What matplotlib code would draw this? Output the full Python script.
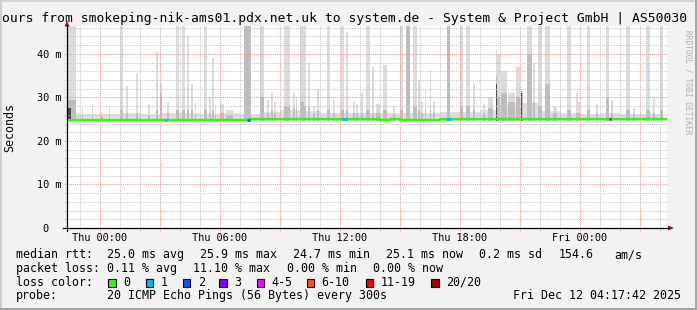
import numpy as np
import matplotlib.pyplot as plt
from matplotlib.patches import Rectangle, Polygon
from matplotlib.lines import Line2D

W, H = 697, 310
MONO = "DejaVu Sans Mono"

# time axis in hours since Thu 00:00 (last 30 hours)
t_first, t_last = -1.65, 28.35
x_ticks = [0, 6, 12, 18, 24]
x_labels = ["Thu 00:00", "Thu 06:00", "Thu 12:00", "Thu 18:00", "Fri 00:00"]
y_ticks = [0, 10, 20, 30, 40]
y_labels = ["0\u00a0\u00a0", "10 m", "20 m", "30 m", "40 m"]

# median rtt (ms), one value per half hour starting at -2.0 h
median_start, median_step = -2.0, 0.5
median_ms = [24.85, 24.85, 24.80, 24.80,
             24.80, 24.75, 24.70, 24.75, 24.80, 24.80, 24.85, 24.80,
             24.80, 24.75, 24.80, 24.75, 24.75, 24.70, 24.75, 24.95,
             25.00, 25.05, 25.00, 25.05, 25.10, 25.00, 24.95, 25.00,
             25.00, 24.95, 25.00, 24.95, 24.90, 24.95, 24.85, 24.80,
             24.85, 24.90, 24.95, 25.00, 25.00, 25.10, 25.10, 25.10,
             25.05, 25.10, 25.15, 25.05, 25.00, 24.95, 25.00, 25.00,
             25.05, 25.00, 25.05, 25.00, 25.05, 25.10, 25.05, 25.10,
             25.10, 25.10]

# light smoke just above the median, hourly from -2 h
base_start = -2
base_top = [26.5, 26.2, 26.2, 26.4, 26.2, 26.5, 26.4, 26.2, 26.5, 26.2,
            26.6, 27.0, 26.8, 26.4, 26.5, 26.4, 26.5, 26.4, 26.5, 26.6,
            26.6, 27.2, 28.2, 28.6, 26.8, 26.4, 26.2, 26.4, 26.2, 26.2,
            26.2]

# smoke spikes: start/end (h), highest ping (ms), denser smoke top (ms)
spike_from = [-1.62, -0.92, -0.40, 0.07, 0.45, 0.98, 1.32, 1.82, 1.98, 2.40,
              2.82, 2.98, 3.35, 3.82, 4.08, 4.35, 4.57, 4.73, 5.18, 5.43,
              5.58, 5.73, 6.00, 6.30, 7.20, 8.00, 8.35, 8.55, 8.68, 9.20,
              9.65, 9.78, 10.00, 10.22, 10.38, 10.65, 10.85, 11.35, 11.65, 12.03,
              12.30, 12.65, 12.80, 13.05, 13.30, 13.60, 13.80, 14.15, 14.65, 15.00,
              15.30, 15.65, 15.90, 16.05, 16.23, 16.48, 16.65, 17.33, 18.00, 18.30,
              18.65, 19.15, 19.38, 19.80, 19.87, 20.07, 20.38, 20.80, 21.03, 21.33,
              21.65, 21.90, 22.25, 22.65, 22.98, 23.35, 23.80, 23.90, 24.35, 24.80,
              25.30, 25.55, 26.30, 26.65, 27.30, 27.65, 28.00]
spike_to = [-1.22, -0.85, -0.33, 0.14, 0.52, 1.17, 1.40, 1.90, 2.06, 2.48,
            2.90, 3.08, 3.43, 3.97, 4.25, 4.43, 4.65, 4.81, 5.33, 5.55,
            5.68, 5.81, 6.20, 6.67, 7.53, 8.20, 8.43, 8.63, 8.78, 9.50,
            9.73, 9.86, 10.20, 10.32, 10.48, 10.73, 10.93, 11.50, 11.73, 12.20,
            12.40, 12.73, 12.88, 13.15, 13.50, 13.68, 14.00, 14.33, 14.73, 15.17,
            15.50, 15.83, 15.98, 16.13, 16.31, 16.56, 16.73, 17.50, 18.17, 18.50,
            18.73, 19.23, 19.67, 19.87, 20.00, 20.33, 20.75, 21.00, 21.17, 21.58,
            21.73, 22.08, 22.50, 22.83, 23.06, 23.53, 23.88, 23.98, 24.50, 24.88,
            25.45, 25.63, 26.50, 26.73, 27.50, 27.73, 28.17]
spike_max = [48, 27.5, 28, 26.5, 28, 48, 32.7, 35.5, 33.8, 28.5,
             40.5, 33.2, 29, 48, 48, 44, 33, 28.8, 48, 30,
             39, 28, 28.5, 27, 48, 48, 29.5, 31, 29, 48,
             31, 30, 48, 48, 38, 28, 32, 48, 29.5, 48,
             45, 29, 28.5, 31, 48, 37, 28.5, 37.5, 28, 48,
             48, 48, 34, 29, 32, 36, 29, 48, 48, 48,
             33, 28.5, 30, 41, 40, 36, 31, 37, 32, 48,
             38, 48, 48, 28, 29, 48, 31, 29, 48, 28.5,
             48, 29.5, 48, 27.5, 48, 30, 48]
spike_mid = [29.5, 26, 26, 25.8, 26, 27, 26.5, 26.5, 26.5, 26,
             27, 31, 26.5, 27, 27, 27, 27, 26, 27, 26.5,
             27, 26, 26.5, 26, 48, 30, 26.5, 27, 26.5, 28,
             27.5, 27.5, 29, 28, 27.5, 26.5, 27, 27, 26.5, 27,
             27, 26.5, 26.5, 26.5, 27, 26.5, 26.5, 27, 26.3, 27,
             48, 28, 27, 26.5, 27, 27, 26.5, 48, 28, 28,
             27, 26.5, 27.5, 35, 30, 31, 29, 30, 31, 40,
             29, 28, 33, 26.5, 26.5, 27, 26.5, 26.5, 27, 26.5,
             30, 26.5, 27, 26.3, 27, 26.5, 27]

# darkest smoke streaks
core_from = [-1.60, 19.80, 21.05]
core_to = [-1.45, 19.86, 21.12]
core_top = [27.5, 33, 31]

# packet loss on the median line: start/end (h), lost pings of 20
loss_from = [3.20, 7.33, 12.10, 17.30, 25.43]
loss_to = [3.37, 7.50, 12.33, 17.55, 25.53]
loss_count = [1, 2, 1, 1, 3]

loss_names = ["0", "1", "2", "3", "4-5", "6-10", "11-19", "20/20"]
loss_colors = ["#26ff00", "#00b8ff", "#0059ff", "#7e00ff", "#ff00ff",
               "#ff5500", "#ff0000", "#a10000"]


def loss_index(n):
    if n <= 3:
        return n
    if n <= 5:
        return 4
    if n <= 10:
        return 5
    if n <= 19:
        return 6
    return 7


def fx(x):
    return x / W


def fy(y):
    return 1 - y / H


fig = plt.figure(figsize=(W / 100, H / 100), dpi=100, facecolor="#f2f2f2")

# 3d-ish border of the rrdtool image
fig.add_artist(Rectangle((0, fy(2)), 1, 2 / H, transform=fig.transFigure, color="#d4d4d4", lw=0))
fig.add_artist(Rectangle((0, 0), 2 / W, 1, transform=fig.transFigure, color="#cfcfcf", lw=0))
fig.add_artist(Rectangle((0, 0), 1, 2.5 / H, transform=fig.transFigure, color="#a0a0a0", lw=0))
fig.add_artist(Rectangle((fx(695), 0), 2 / W, 1, transform=fig.transFigure, color="#a8a8a8", lw=0))

top_px, bot_px, left_px, right_px = 26, 228, 67, 667
ax = fig.add_axes([fx(left_px), fy(bot_px), (right_px - left_px) / W, (bot_px - top_px) / H])
ax.set_facecolor("white")
ax.set_xlim(t_first, t_last)
ax.set_ylim(0, 46.4)
for s in ax.spines.values():
    s.set_visible(False)

# smoke
base_t = np.arange(len(base_top)) + base_start
ax.fill_between(base_t, 24.6, base_top, step="post", color="#e0e0e0", lw=0, zorder=1)
sf = np.array(spike_from)
st = np.array(spike_to)
ax.bar(sf, np.array(spike_max) - 24.6, width=st - sf, bottom=24.6, align="edge",
       color="#dcdcdc", lw=0, zorder=1.1)
ax.bar(sf, np.array(spike_mid) - 24.6, width=st - sf, bottom=24.6, align="edge",
       color="#bdbdbd", lw=0, zorder=1.2)
cf = np.array(core_from)
ax.bar(cf, np.array(core_top) - 24.6, width=np.array(core_to) - cf, bottom=24.6, align="edge",
       color="#4a4a4a", lw=0, zorder=1.3)

# grid (hourly minor, 3-hourly major; 2 ms minor, 10 ms major)
dot = (0, (1, 1))
for h in range(-1, 29):
    major = h % 3 == 0
    ax.axvline(h, ymin=-2.5 / 202, ymax=1, color="#f19a9a" if major else "#c8c8c8",
               lw=0.75, ls=dot, zorder=2, clip_on=False)
for v in range(2, 47, 2):
    major = v % 10 == 0
    ax.axhline(v, xmin=-3 / 600, xmax=1, color="#f19a9a" if major else "#c8c8c8",
               lw=0.75, ls=dot, zorder=2, clip_on=False)

# median line
mt = np.arange(len(median_ms)) * median_step + median_start
ax.step(mt, median_ms, where="post", color=loss_colors[0], lw=1.7, zorder=3)
for a, b, n in zip(loss_from, loss_to, loss_count):
    v = np.interp((a + b) / 2, mt, median_ms)
    ax.hlines(v, a, b, color=loss_colors[loss_index(n)], lw=1.9, zorder=3.1)

ax.set_xticks(x_ticks, x_labels)
ax.set_yticks(y_ticks, y_labels)
ax.tick_params(axis="x", length=0, pad=3.3, labelsize=7.4)
ax.tick_params(axis="y", length=0, pad=4.3, labelsize=7.4)
for lab in ax.get_xticklabels() + ax.get_yticklabels():
    lab.set_fontfamily(MONO)

# axis lines with arrows
fig.add_artist(Line2D([fx(63), fx(669)], [fy(228), fy(228)], color="black", lw=0.9))
fig.add_artist(Line2D([fx(67), fx(67)], [fy(231), fy(25)], color="black", lw=0.9))
fig.add_artist(Polygon([(fx(668), fy(225.5)), (fx(674), fy(228)), (fx(668), fy(230.5))],
                       closed=True, transform=fig.transFigure, color="#8e1c1c", lw=0))
fig.add_artist(Polygon([(fx(64.5), fy(26.5)), (fx(67), fy(20.5)), (fx(69.5), fy(26.5))],
                       closed=True, transform=fig.transFigure, color="#8e1c1c", lw=0))

# title, unit and watermark
fig.text(fx(1.5), fy(22), "ours from smokeping-nik-ams01.pdx.net.uk to system.de - System & Project GmbH | AS50030",
         family=MONO, size=9.4, va="baseline", ha="left")
fig.text(fx(10), fy(127), "Seconds", family=MONO, size=8.4, rotation=90, ha="center", va="center")
fig.text(fx(688), fy(30), "RRDTOOL / TOBI OETIKER", family=MONO, size=5.7, rotation=270,
         ha="center", va="top", color="#b0b0b0")

# legend
lsz = 8.4
rows = [258, 271.7, 285.5, 299.3]
fig.text(fx(16), fy(rows[0]), "median rtt:", family=MONO, size=lsz, va="baseline")
for x, s in [(107.3, "25.0 ms avg"), (200, "25.9 ms max"), (293, "24.7 ms min"),
             (386, "25.1 ms now"), (479.3, "0.2 ms sd"), (558.3, "154.6"), (614.3, "am/s")]:
    fig.text(fx(x), fy(rows[0]), s, family=MONO, size=lsz, va="baseline")
fig.text(fx(16), fy(rows[1]), "packet loss:", family=MONO, size=lsz, va="baseline")
for x, s in [(107.3, "0.11 % avg"), (193.3, "11.10 % max"), (286.7, "0.00 % min"), (372.7, "0.00 % now")]:
    fig.text(fx(x), fy(rows[1]), s, family=MONO, size=lsz, va="baseline")
fig.text(fx(16), fy(rows[2]), "loss color:", family=MONO, size=lsz, va="baseline")
box_x = [108.3, 145.7, 182.7, 219.3, 256.7, 306.7, 365.7, 431]
for bx, name, col in zip(box_x, loss_names, loss_colors):
    fig.add_artist(Rectangle((fx(bx), fy(286.5)), 7.5 / W, 8 / H, transform=fig.transFigure,
                             facecolor=col, edgecolor="black", lw=0.8))
    fig.text(fx(bx + 15), fy(rows[2]), name, family=MONO, size=lsz, va="baseline")
fig.text(fx(16), fy(rows[3]), "probe:", family=MONO, size=lsz, va="baseline")
fig.text(fx(107.3), fy(rows[3]), "20 ICMP Echo Pings (56 Bytes) every 300s", family=MONO, size=lsz, va="baseline")
fig.text(fx(513.3), fy(rows[3]), "Fri Dec 12 04:17:42 2025", family=MONO, size=lsz, va="baseline")

fig.savefig("out.png", dpi=100, facecolor=fig.get_facecolor())
